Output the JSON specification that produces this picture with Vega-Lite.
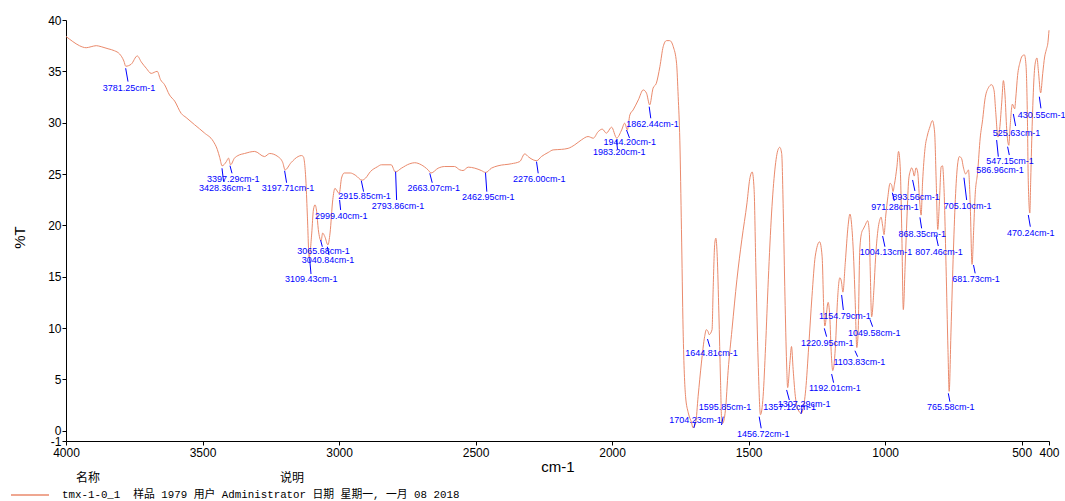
{
  "$schema": "https://vega.github.io/schema/vega-lite/v6.json",
  "width": 983,
  "height": 421,
  "autosize": {"type": "none"},
  "padding": {"left": 66, "top": 20, "right": 16, "bottom": 60},
  "background": "white",
  "config": {"view": {"stroke": null}, "font": "Liberation Sans"},
  "datasets": {
    "spectrum": [
      {"wn":4000,"t":38.4},{"wn":3975,"t":37.9},{"wn":3951,"t":37.5},{"wn":3926,"t":37.3},{"wn":3908,"t":37.4},{"wn":3889,"t":37.5},{"wn":3871,"t":37.4},{"wn":3846,"t":37.2},{"wn":3822,"t":37.0},{"wn":3804,"t":36.7},{"wn":3788,"t":36.0},{"wn":3781.25,"t":35.5},{"wn":3761,"t":35.7},{"wn":3739,"t":36.5},{"wn":3724,"t":35.9},{"wn":3706,"t":35.3},{"wn":3688,"t":34.8},{"wn":3666,"t":35.0},{"wn":3654,"t":34.2},{"wn":3639,"t":33.7},{"wn":3621,"t":32.7},{"wn":3602,"t":32.1},{"wn":3578,"t":30.9},{"wn":3560,"t":30.5},{"wn":3529,"t":29.8},{"wn":3493,"t":29.0},{"wn":3461,"t":28.2},{"wn":3446,"t":27.4},{"wn":3437,"t":26.6},{"wn":3428.36,"t":25.8},{"wn":3413,"t":26.2},{"wn":3405,"t":26.55},{"wn":3397.29,"t":25.9},{"wn":3383,"t":26.55},{"wn":3370,"t":26.8},{"wn":3346,"t":27.0},{"wn":3309,"t":27.2},{"wn":3273,"t":26.7},{"wn":3254,"t":27.0},{"wn":3224,"t":26.7},{"wn":3206,"t":26.1},{"wn":3197.71,"t":25.4},{"wn":3176,"t":26.1},{"wn":3150,"t":26.7},{"wn":3138,"t":26.8},{"wn":3131,"t":26.7},{"wn":3121,"t":24.1},{"wn":3116,"t":20.9},{"wn":3109.43,"t":16.9},{"wn":3100,"t":19.25},{"wn":3094,"t":21.5},{"wn":3088,"t":22.0},{"wn":3082,"t":21.35},{"wn":3076,"t":19.6},{"wn":3065.68,"t":18.5},{"wn":3060,"t":19.25},{"wn":3052,"t":18.9},{"wn":3040.84,"t":18.1},{"wn":3033,"t":19.25},{"wn":3023,"t":22.5},{"wn":3015,"t":23.6},{"wn":2999.4,"t":23.1},{"wn":2991,"t":24.6},{"wn":2981,"t":25.1},{"wn":2959,"t":25.1},{"wn":2941,"t":24.9},{"wn":2915.85,"t":24.4},{"wn":2903,"t":24.6},{"wn":2885,"t":25.24},{"wn":2860,"t":25.7},{"wn":2845,"t":25.9},{"wn":2809,"t":25.9},{"wn":2793.86,"t":25.2},{"wn":2772,"t":25.56},{"wn":2741,"t":26.0},{"wn":2723,"t":26.1},{"wn":2699,"t":25.9},{"wn":2674,"t":25.4},{"wn":2663.07,"t":25.1},{"wn":2637,"t":25.57},{"wn":2613,"t":25.73},{"wn":2577,"t":25.73},{"wn":2558,"t":25.41},{"wn":2546,"t":25.34},{"wn":2527,"t":25.67},{"wn":2503,"t":25.57},{"wn":2479,"t":25.34},{"wn":2462.95,"t":25.15},{"wn":2442,"t":25.57},{"wn":2418,"t":25.8},{"wn":2369,"t":26.0},{"wn":2338,"t":26.22},{"wn":2320,"t":26.96},{"wn":2305,"t":26.64},{"wn":2289,"t":26.38},{"wn":2276,"t":26.3},{"wn":2259,"t":26.7},{"wn":2234,"t":27.1},{"wn":2216,"t":27.35},{"wn":2186,"t":27.4},{"wn":2161,"t":27.5},{"wn":2137,"t":27.84},{"wn":2112,"t":28.33},{"wn":2088,"t":28.65},{"wn":2069,"t":28.49},{"wn":2051,"t":29.13},{"wn":2036,"t":29.37},{"wn":2021,"t":28.98},{"wn":2002,"t":29.56},{"wn":1983.2,"t":28.5},{"wn":1965,"t":29.3},{"wn":1954,"t":29.95},{"wn":1944.2,"t":29.3},{"wn":1935,"t":30.76},{"wn":1923,"t":31.24},{"wn":1904,"t":32.22},{"wn":1886,"t":33.19},{"wn":1874,"t":32.87},{"wn":1862.44,"t":31.73},{"wn":1850,"t":33.36},{"wn":1838,"t":33.84},{"wn":1825,"t":35.46},{"wn":1813,"t":37.4},{"wn":1801,"t":37.99},{"wn":1789,"t":37.99},{"wn":1776,"t":37.4},{"wn":1764,"t":35.79},{"wn":1758,"t":32.54},{"wn":1752,"t":28.3},{"wn":1746,"t":19.57},{"wn":1740,"t":9.84},{"wn":1731,"t":3.35},{"wn":1721,"t":1.74},{"wn":1709,"t":0.77},{"wn":1704.23,"t":0.3},{"wn":1694,"t":0.77},{"wn":1685,"t":3.35},{"wn":1673,"t":6.59},{"wn":1661,"t":9.19},{"wn":1655,"t":9.84},{"wn":1649,"t":9.68},{"wn":1644.81,"t":9.36},{"wn":1634,"t":9.84},{"wn":1630,"t":13.73},{"wn":1624,"t":18.26},{"wn":1620,"t":18.75},{"wn":1615,"t":16.96},{"wn":1609,"t":11.45},{"wn":1603,"t":4.93},{"wn":1599,"t":1.1},{"wn":1595.85,"t":0.7},{"wn":1585,"t":2.0},{"wn":1575,"t":5.87},{"wn":1561,"t":9.84},{"wn":1543,"t":14.7},{"wn":1525,"t":18.6},{"wn":1506,"t":22.2},{"wn":1496,"t":24.5},{"wn":1487,"t":25.2},{"wn":1480,"t":23.5},{"wn":1474,"t":16.4},{"wn":1465,"t":6.6},{"wn":1456.72,"t":1.56},{"wn":1447,"t":3.35},{"wn":1438,"t":8.2},{"wn":1428,"t":14.7},{"wn":1416,"t":21.2},{"wn":1404,"t":25.4},{"wn":1392,"t":27.4},{"wn":1386,"t":27.6},{"wn":1379,"t":27.0},{"wn":1373,"t":21.2},{"wn":1367,"t":13.1},{"wn":1361,"t":6.6},{"wn":1357.12,"t":4.2},{"wn":1349,"t":6.6},{"wn":1343,"t":8.2},{"wn":1337,"t":5.96},{"wn":1329,"t":3.35},{"wn":1319,"t":2.06},{"wn":1307.29,"t":1.7},{"wn":1301,"t":2.06},{"wn":1291,"t":4.0},{"wn":1280,"t":8.2},{"wn":1268,"t":13.1},{"wn":1256,"t":17.0},{"wn":1240,"t":18.4},{"wn":1231,"t":17.0},{"wn":1224,"t":11.2},{"wn":1220.95,"t":10.2},{"wn":1209,"t":12.5},{"wn":1203,"t":11.2},{"wn":1197,"t":7.35},{"wn":1192.01,"t":5.86},{"wn":1182,"t":8.3},{"wn":1175,"t":12.5},{"wn":1166,"t":14.9},{"wn":1160,"t":14.5},{"wn":1154.79,"t":13.5},{"wn":1146,"t":16.4},{"wn":1136,"t":19.9},{"wn":1129,"t":21.1},{"wn":1122,"t":19.8},{"wn":1115,"t":16.5},{"wn":1110,"t":12.8},{"wn":1103.83,"t":8.1},{"wn":1099,"t":9.6},{"wn":1093,"t":17.6},{"wn":1086,"t":19.3},{"wn":1080,"t":19.65},{"wn":1074,"t":19.97},{"wn":1064,"t":20.45},{"wn":1058,"t":19.3},{"wn":1055,"t":16.0},{"wn":1049.58,"t":11.1},{"wn":1041,"t":13.9},{"wn":1035,"t":16.9},{"wn":1028,"t":19.2},{"wn":1019,"t":20.6},{"wn":1015,"t":20.8},{"wn":1009,"t":19.9},{"wn":1004.13,"t":19.1},{"wn":998,"t":20.9},{"wn":990,"t":22.8},{"wn":982,"t":24.1},{"wn":976,"t":23.9},{"wn":971.28,"t":23.3},{"wn":966,"t":24.0},{"wn":957,"t":25.7},{"wn":951,"t":27.2},{"wn":945,"t":25.7},{"wn":939,"t":19.2},{"wn":933.53,"t":11.8},{"wn":927,"t":16.0},{"wn":920,"t":20.9},{"wn":914,"t":24.4},{"wn":908,"t":25.3},{"wn":903,"t":25.6},{"wn":898,"t":25.3},{"wn":893.56,"t":24.8},{"wn":887,"t":25.6},{"wn":881,"t":25.2},{"wn":874,"t":22.5},{"wn":868.35,"t":21.0},{"wn":863,"t":24.2},{"wn":854,"t":27.5},{"wn":845,"t":28.8},{"wn":836,"t":29.6},{"wn":827,"t":30.2},{"wn":819,"t":29.1},{"wn":813,"t":24.2},{"wn":807.46,"t":19.6},{"wn":801,"t":22.5},{"wn":795,"t":25.7},{"wn":790,"t":25.8},{"wn":785,"t":23.9},{"wn":777,"t":16.0},{"wn":770,"t":7.9},{"wn":765.58,"t":3.84},{"wn":759,"t":9.6},{"wn":750,"t":17.6},{"wn":742,"t":23.1},{"wn":734,"t":26.1},{"wn":728,"t":26.7},{"wn":720,"t":26.5},{"wn":714,"t":25.7},{"wn":705.1,"t":25.0},{"wn":700,"t":25.2},{"wn":695,"t":25.4},{"wn":689,"t":22.5},{"wn":681.73,"t":16.2},{"wn":676,"t":19.5},{"wn":671,"t":22.7},{"wn":661,"t":25.3},{"wn":652,"t":28.5},{"wn":643,"t":30.3},{"wn":635,"t":32.2},{"wn":622,"t":33.4},{"wn":610,"t":33.7},{"wn":601,"t":33.1},{"wn":595,"t":31.0},{"wn":586.96,"t":28.6},{"wn":582,"t":29.1},{"wn":573,"t":32.0},{"wn":567,"t":34.1},{"wn":561,"t":32.6},{"wn":555,"t":29.4},{"wn":547.15,"t":27.8},{"wn":543,"t":29.4},{"wn":534,"t":31.8},{"wn":525.63,"t":31.35},{"wn":522,"t":32.3},{"wn":515,"t":34.6},{"wn":506,"t":35.9},{"wn":498,"t":36.5},{"wn":490,"t":36.6},{"wn":484,"t":35.5},{"wn":479,"t":30.3},{"wn":476,"t":24.4},{"wn":470.24,"t":21.2},{"wn":467,"t":24.4},{"wn":461,"t":30.3},{"wn":454,"t":34.8},{"wn":448,"t":36.1},{"wn":444,"t":36.3},{"wn":439,"t":35.1},{"wn":430.55,"t":32.9},{"wn":423,"t":34.8},{"wn":416,"t":36.4},{"wn":410,"t":37.1},{"wn":404,"t":37.8},{"wn":400,"t":39.0}
    ],
    "peaks": [
      {"label":"3781.25cm-1","x1":3781.5,"y1":35.3,"x2":3772.9,"y2":34.0,"tx":3769.2,"ty":33.35},
      {"label":"3428.36cm-1","x1":3428.7,"y1":25.56,"x2":3422.8,"y2":24.25,"tx":3416.6,"ty":23.61},
      {"label":"3397.29cm-1","x1":3399.4,"y1":25.81,"x2":3392.0,"y2":25.07,"tx":3387.3,"ty":24.51},
      {"label":"3197.71cm-1","x1":3199.4,"y1":25.32,"x2":3192.1,"y2":24.15,"tx":3187.0,"ty":23.61},
      {"label":"3109.43cm-1","x1":3107.8,"y1":16.79,"x2":3102.7,"y2":15.26,"tx":3101.6,"ty":14.78},
      {"label":"3065.68cm-1","x1":3067.6,"y1":18.57,"x2":3061.3,"y2":17.92,"tx":3056.6,"ty":17.53},
      {"label":"3040.84cm-1","x1":3043.0,"y1":17.92,"x2":3036.8,"y2":17.11,"tx":3040.5,"ty":16.63},
      {"label":"2999.40cm-1","x1":2998.0,"y1":22.47,"x2":2994.3,"y2":21.5,"tx":2991.7,"ty":20.94},
      {"label":"2915.85cm-1","x1":2918.5,"y1":24.35,"x2":2910.1,"y2":23.28,"tx":2906.4,"ty":22.86},
      {"label":"2793.86cm-1","x1":2792.9,"y1":25.23,"x2":2789.2,"y2":22.47,"tx":2784.1,"ty":21.91},
      {"label":"2663.07cm-1","x1":2667.7,"y1":25.07,"x2":2658.9,"y2":24.15,"tx":2653.0,"ty":23.67},
      {"label":"2462.95cm-1","x1":2463.7,"y1":25.13,"x2":2458.9,"y2":23.28,"tx":2453.8,"ty":22.79},
      {"label":"2276.00cm-1","x1":2276.9,"y1":26.2,"x2":2270.7,"y2":25.07,"tx":2267.0,"ty":24.51},
      {"label":"1983.20cm-1","x1":1983.9,"y1":28.31,"x2":1980.3,"y2":27.41,"tx":1974.1,"ty":27.17},
      {"label":"1944.20cm-1","x1":1947.3,"y1":29.29,"x2":1936.3,"y2":28.51,"tx":1935.2,"ty":28.09},
      {"label":"1862.44cm-1","x1":1864.2,"y1":31.56,"x2":1858.4,"y2":30.43,"tx":1852.1,"ty":29.84},
      {"label":"1704.23cm-1","x1":1700.5,"y1":0.27,"x2":1695.5,"y2":0.85,"tx":1694.6,"ty":1.04},
      {"label":"1595.85cm-1","x1":1599.4,"y1":0.56,"x2":1593.2,"y2":1.37,"tx":1586.6,"ty":2.34},
      {"label":"1644.81cm-1","x1":1650.7,"y1":8.93,"x2":1642.3,"y2":8.18,"tx":1636.1,"ty":7.6},
      {"label":"1456.72cm-1","x1":1461.4,"y1":1.37,"x2":1454.0,"y2":0.24,"tx":1446.7,"ty":-0.32},
      {"label":"1357.12cm-1","x1":1360.9,"y1":3.97,"x2":1351.0,"y2":2.99,"tx":1349.9,"ty":2.34},
      {"label":"1307.29cm-1","x1":1308.5,"y1":1.63,"x2":1304.1,"y2":2.11,"tx":1296.8,"ty":2.6},
      {"label":"1220.95cm-1","x1":1222.9,"y1":9.97,"x2":1214.4,"y2":9.16,"tx":1211.9,"ty":8.51},
      {"label":"1192.01cm-1","x1":1196.1,"y1":5.52,"x2":1188.8,"y2":4.68,"tx":1184.0,"ty":4.13},
      {"label":"1154.79cm-1","x1":1159.5,"y1":13.22,"x2":1153.2,"y2":11.76,"tx":1147.4,"ty":11.2},
      {"label":"1103.83cm-1","x1":1110.7,"y1":7.79,"x2":1100.8,"y2":7.21,"tx":1094.6,"ty":6.72},
      {"label":"1049.58cm-1","x1":1055.8,"y1":10.85,"x2":1045.9,"y2":10.13,"tx":1039.7,"ty":9.49},
      {"label":"1004.13cm-1","x1":1009.3,"y1":18.96,"x2":1000.9,"y2":17.92,"tx":997.2,"ty":17.43},
      {"label":"971.28cm-1","x1":973.8,"y1":23.18,"x2":966.5,"y2":22.37,"tx":964.2,"ty":21.76},
      {"label":"893.56cm-1","x1":899.5,"y1":24.42,"x2":891.0,"y2":23.35,"tx":887.4,"ty":22.76},
      {"label":"868.35cm-1","x1":872.7,"y1":20.78,"x2":866.5,"y2":19.71,"tx":864.1,"ty":19.16},
      {"label":"807.46cm-1","x1":814.2,"y1":19.06,"x2":805.4,"y2":17.99,"tx":803.1,"ty":17.43},
      {"label":"765.58cm-1","x1":768.7,"y1":3.64,"x2":762.9,"y2":2.83,"tx":760.2,"ty":2.28},
      {"label":"705.10cm-1","x1":711.5,"y1":24.64,"x2":701.6,"y2":22.47,"tx":698.0,"ty":21.89},
      {"label":"681.73cm-1","x1":676.5,"y1":16.14,"x2":670.4,"y2":15.33,"tx":667.2,"ty":14.75},
      {"label":"586.96cm-1","x1":591.8,"y1":28.31,"x2":585.6,"y2":26.69,"tx":579.7,"ty":25.39},
      {"label":"547.15cm-1","x1":551.6,"y1":27.66,"x2":545.4,"y2":26.85,"tx":543.1,"ty":26.3},
      {"label":"525.63cm-1","x1":530.6,"y1":30.85,"x2":522.2,"y2":29.68,"tx":518.6,"ty":29.03},
      {"label":"470.24cm-1","x1":475.8,"y1":21.01,"x2":468.4,"y2":19.87,"tx":467.2,"ty":19.23},
      {"label":"430.55cm-1","x1":435.4,"y1":32.53,"x2":429.5,"y2":31.4,"tx":427.0,"ty":30.75}
    ]
  },
  "layer": [
    {
      "data": {"name": "spectrum"},
      "mark": {"type": "line", "interpolate": "monotone", "strokeWidth": 1},
      "encoding": {
        "x": {
          "field": "wn", "type": "quantitative",
          "scale": {"domain": [400, 4000], "reverse": true, "nice": false, "zero": false},
          "axis": {
            "values": [4000, 3500, 3000, 2500, 2000, 1500, 1000, 500, 400],
            "labelExpr": "datum.value + ''",
            "title": "cm-1", "titleFontSize": 15, "titleFontWeight": "normal", "titleColor": "#000",
            "titleX": 491.5, "titleY": 25, "titleBaseline": "middle", "titleAlign": "center",
            "labelFontSize": 12, "labelColor": "#000", "labelFlush": false, "labelOverlap": false, "labelPadding": 2,
            "tickSize": 4, "tickColor": "#000", "domainColor": "#000", "grid": false
          }
        },
        "y": {
          "field": "t", "type": "quantitative",
          "scale": {"domain": [-1, 40], "nice": false, "zero": false},
          "axis": {
            "values": [40, 35, 30, 25, 20, 15, 10, 5, 0, -1],
            "labelExpr": "datum.value + ''",
            "title": "%T", "titleFontSize": 15, "titleFontWeight": "normal", "titleColor": "#000",
            "titleX": -47, "titleY": 217, "titleAngle": -90, "titleBaseline": "middle", "titleAlign": "center",
            "labelFontSize": 12, "labelColor": "#000", "labelOverlap": false, "labelFlush": false, "labelPadding": 1,
            "tickSize": 4, "tickColor": "#000", "domainColor": "#000", "grid": false
          }
        },
        "color": {
          "datum": "tmx-1-0_1\u00a0 样品 1979 用户 Administrator 日期 星期一, 一月 08 2018",
          "type": "nominal",
          "scale": {"range": ["#EA8A6C"]},
          "legend": {
            "orient": "none", "legendX": -56, "legendY": 453, "padding": 0,
            "title": "\u200b\u3000\u3000\u3000\u3000\u3000\u2002名称\u3000\u3000\u3000\u3000\u3000\u3000\u3000\u3000\u3000\u3000\u3000\u3000\u3000\u3000\u3000说明",
            "titleFont": "Noto Sans CJK SC", "titleFontSize": 12, "titleFontWeight": "normal", "titleColor": "#000",
            "titlePadding": 3, "titleLimit": 800,
            "labelFont": "'Liberation Mono', 'Noto Sans CJK SC'", "labelFontSize": 10.8, "labelColor": "#000", "labelLimit": 800,
            "symbolType": "stroke", "symbolSize": 1444, "symbolStrokeWidth": 1.5, "labelOffset": 12, "clipHeight": 14
          }
        }
      }
    },
    {
      "data": {"name": "peaks"},
      "mark": {"type": "rule", "color": "#0000FF", "strokeWidth": 1},
      "encoding": {
        "x": {"field": "x1", "type": "quantitative"},
        "y": {"field": "y1", "type": "quantitative"},
        "x2": {"field": "x2"},
        "y2": {"field": "y2"}
      }
    },
    {
      "data": {"name": "peaks"},
      "mark": {"type": "text", "color": "#0000FF", "fontSize": 9, "font": "Liberation Sans", "align": "center", "baseline": "middle"},
      "encoding": {
        "x": {"field": "tx", "type": "quantitative"},
        "y": {"field": "ty", "type": "quantitative"},
        "text": {"field": "label"}
      }
    }
  ]
}
